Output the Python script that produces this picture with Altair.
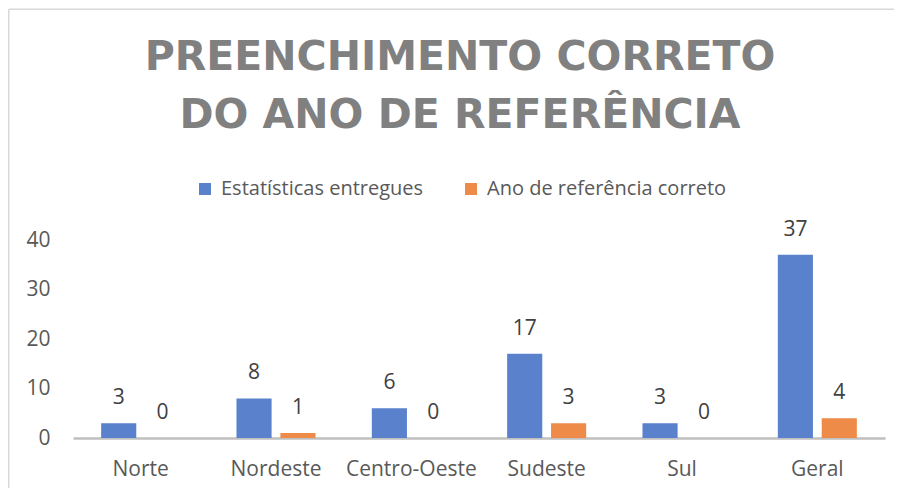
import altair as alt
import pandas as pd

# ---- data ----
regions = ["Norte", "Nordeste", "Centro-Oeste", "Sudeste", "Sul", "Geral"]
series = ["Estatísticas entregues", "Ano de referência correto"]
entregues = [3, 8, 6, 17, 3, 37]
corretos = [0, 1, 0, 3, 0, 4]
title_lines = ["PREENCHIMENTO CORRETO", "DO ANO DE REFERÊNCIA"]
y_ticks = [0, 10, 20, 30, 40]
colors = ["#5a82cc", "#ee8b48"]

rows = []
for r, a, b in zip(regions, entregues, corretos):
    rows.append({"regiao": r, "serie": series[0], "valor": a})
    rows.append({"regiao": r, "serie": series[1], "valor": b})
df = pd.DataFrame(rows)

FONT = "Open Sans"

x = alt.X(
    "regiao:N", sort=regions, title=None,
    scale=alt.Scale(paddingInner=0.416, paddingOuter=0.208),
    axis=alt.Axis(labelAngle=0, labelFont=FONT, labelFontSize=21, labelColor="#595959",
                  ticks=False, domainColor="#bfbfbf", domainWidth=2.5, labelPadding=20, grid=False),
)
xoff = alt.XOffset("serie:N", sort=series, scale=alt.Scale(paddingInner=0.2, paddingOuter=0))
y = alt.Y(
    "valor:Q", title=None, scale=alt.Scale(domain=[0, 40]),
    axis=alt.Axis(values=y_ticks, ticks=False, domain=False, grid=False, labelFont=FONT,
                  labelFontSize=21, labelColor="#595959", labelPadding=23),
)
color = alt.Color(
    "serie:N", sort=series, scale=alt.Scale(domain=series, range=colors),
    legend=alt.Legend(title=None, orient="none", legendX=122, legendY=-61, direction="horizontal",
                      symbolType="square", symbolSize=144, symbolStrokeWidth=0, labelFont=FONT,
                      labelFontSize=20, labelColor="#595959", columnPadding=37, labelOffset=6,
                      padding=0, labelLimit=400),
)

bars = alt.Chart(df).mark_bar().encode(x=x, xOffset=xoff, y=y, color=color)
labels = alt.Chart(df).mark_text(baseline="middle", dy=-25, font=FONT, fontSize=21, color="#404040").encode(
    x=x, xOffset=xoff, y=y, text="valor:Q"
)

frame_data = alt.Data(values=[{"k": 0}])
left_border = alt.Chart(frame_data).mark_rule(color="#d9d9d9", strokeWidth=1.5).encode(
    x=alt.value(-64.25), y=alt.value(-230.7), y2=alt.value(300)
)
top_border = alt.Chart(frame_data).mark_rule(color="#d9d9d9", strokeWidth=1.5).encode(
    x=alt.value(-64.25), x2=alt.value(900), y=alt.value(-230.7)
)

chart = alt.layer(left_border, top_border, bars, labels).properties(
    width=812,
    height=198,
    autosize=alt.AutoSizeParams(type="none"),
    padding={"left": 65, "top": 232, "right": 9, "bottom": 50},
    title=alt.TitleParams(
        text=title_lines, font="DejaVu Sans", fontSize=41, fontWeight="bold", color="#808080",
        anchor="middle", frame="group", dx=-19, offset=0, dy=160, lineHeight=57.5, baseline="alphabetic",
    ),
).configure_view(stroke=None)

chart.save("out.html", embed_options={"renderer": "svg", "actions": False})
